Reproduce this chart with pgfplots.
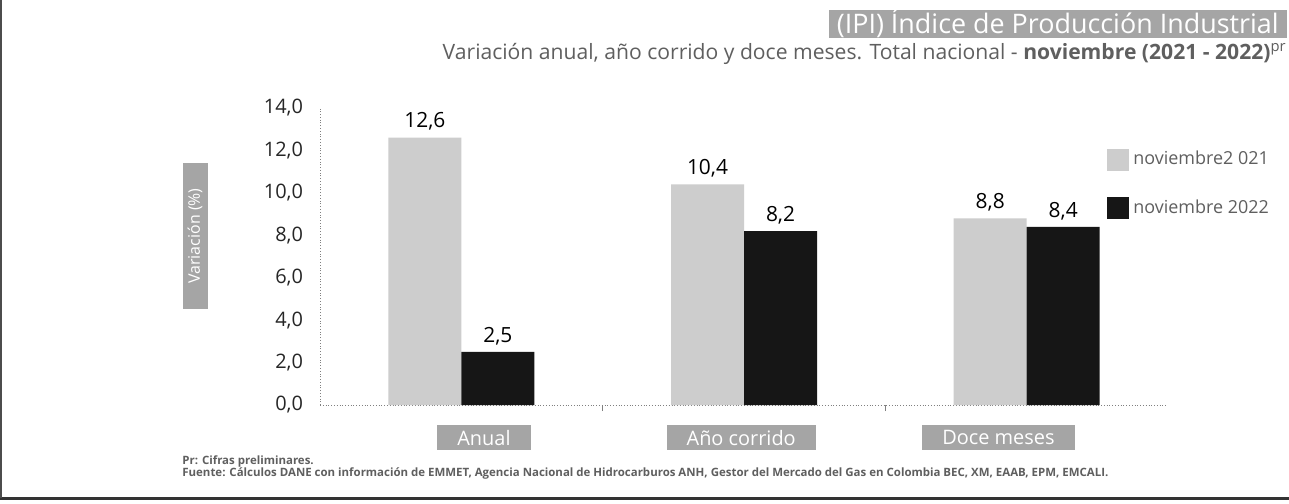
\documentclass[border=0pt]{standalone}
\usepackage{pgfplots}
\pgfplotsset{compat=1.18}
\usepackage{fontspec}
\setmainfont{Open Sans}
\definecolor{lightbar}{RGB}{205,205,205}
\definecolor{darkbar}{RGB}{22,22,22}
\definecolor{boxgray}{RGB}{165,165,165}
\definecolor{txtgray}{RGB}{95,95,95}
\begin{document}
\begin{tikzpicture}
\begin{scope}[x=0.5bp,y=-0.5bp]
\useasboundingbox (0,0) rectangle (1289,504);
\fill[white] (0,0) rectangle (1289,504);
\node[fill=boxgray, text=white, font=\fontsize{13.5}{15}\selectfont, anchor=north east, text height=11.2bp, text depth=2.4bp, inner xsep=4bp, inner ysep=0.2bp] at (1287,10) {(IPI) Índice de Producción Industrial};
\node[anchor=north east, text=txtgray, font=\fontsize{10.6}{12}\selectfont, inner sep=0pt] at (1287,43) {Variación anual, año corrido y doce meses. Total nacional - \textbf{noviembre (2021 - 2022)}\textsuperscript{pr}};
\node[fill=boxgray, text=white, rotate=90, font=\fontsize{8}{9}\selectfont, minimum width=73bp, minimum height=12.5bp, inner sep=0pt] at (195,236) {Variación (\%)};
\node[anchor=west, text=txtgray, font=\bfseries\fontsize{5.75}{6}\selectfont, inner sep=0pt] at (182,461) {Pr: Cifras preliminares.};
\node[anchor=west, text=txtgray, font=\bfseries\fontsize{5.75}{6}\selectfont, inner sep=0pt] at (182,473) {Fuente: Cálculos DANE con información de EMMET, Agencia Nacional de Hidrocarburos ANH, Gestor del Mercado del Gas en Colombia BEC, XM, EAAB, EPM, EMCALI.};
\draw[line width=1.5bp, black!80] (0,498) -- (1289,498);
\draw[line width=1bp, black!70] (1,0) -- (1,498);
\end{scope}
\begin{axis}[
  at={(160bp,-202.5bp)}, anchor=south west, scale only axis,
  width=424bp, height=148.5bp,
  ybar=0pt, bar width=36.5bp,
  xmin=-0.5, xmax=2.5, ymin=0, ymax=14,
  ytick={0,2,...,14},
  /pgf/number format/assume math mode=true,
  yticklabel={\pgfmathprintnumber[fixed,fixed zerofill,precision=1,use comma]{\tick}},
  yticklabel style={font=\fontsize{10}{12}\selectfont, text=black!85, xshift=-2bp},
  ytick style={draw=none},
  xtick={0.5,1.5}, xticklabels={},
  xtick style={gray, thin},
  tick align=outside, major tick length=3bp,
  axis x line*=bottom, axis y line*=left,
  axis line style={gray, densely dotted, thin},
  extra x ticks={0.08,0.99,1.9},
  extra x tick labels={Anual,Año corrido,Doce meses},
  extra x tick style={major tick length=0pt, tick label style={fill=boxgray, text=white, font=\fontsize{10}{12}\selectfont, minimum height=12.5bp, inner xsep=10bp, inner ysep=0pt, anchor=north, yshift=-10bp}},
  nodes near coords={\pgfmathprintnumber[fixed,fixed zerofill,precision=1,use comma]{\pgfplotspointmeta}},
  every node near coord/.append style={font=\fontsize{10.5}{12}\selectfont, text=black},
  legend style={draw=none, fill=none, at={(0.928,0.869)}, anchor=north west, row sep=12bp, inner sep=0pt, font=\fontsize{9}{11}\selectfont, text=txtgray},
  legend cell align=left,
  clip=false,
]
\addplot[fill=lightbar, draw=none, legend image code/.code={\fill[lightbar] (0bp,-5.5bp) rectangle (11bp,5.5bp);}] coordinates {(0,12.6) (1,10.4) (2,8.8)};
\addlegendentry{noviembre2 021}
\addplot[fill=darkbar, draw=none, legend image code/.code={\fill[darkbar] (0bp,-5.5bp) rectangle (11bp,5.5bp);}] coordinates {(0,2.5) (1,8.2) (2,8.4)};
\addlegendentry{noviembre 2022}
\end{axis}
\end{tikzpicture}
\end{document}
